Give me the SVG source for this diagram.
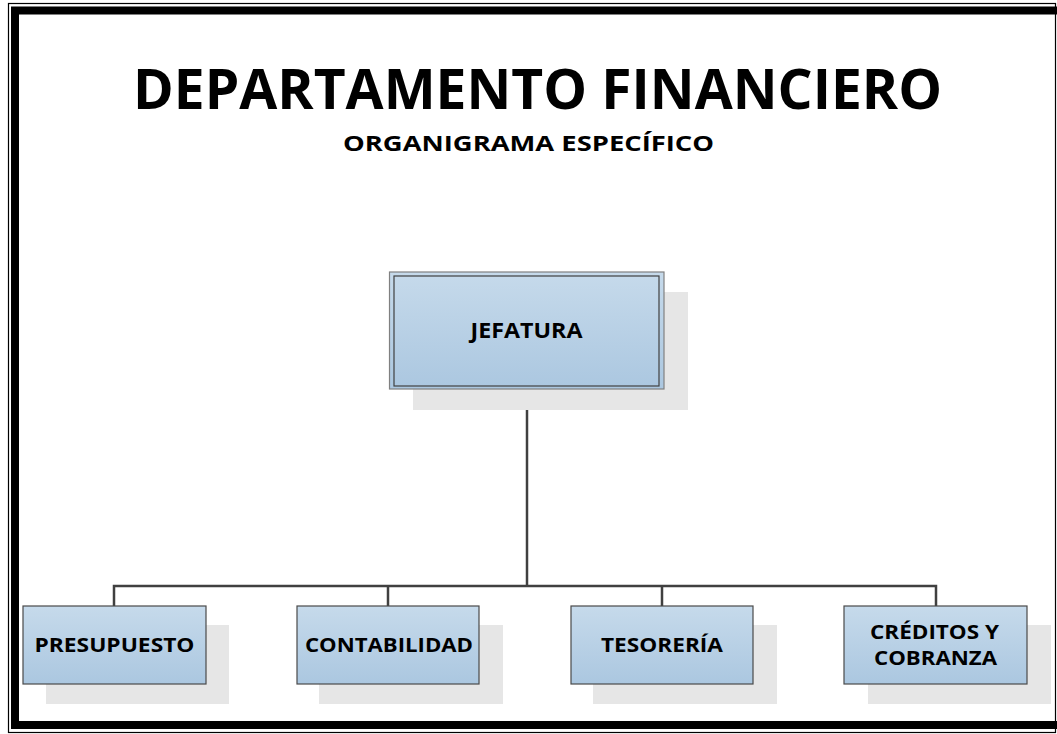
<svg xmlns="http://www.w3.org/2000/svg" width="1057" height="734" viewBox="0 0 1057 734">
<style>
.t{font-family:"Open Sans","Liberation Sans",sans-serif;font-weight:bold;fill:#000;text-anchor:middle}
.node{fill:url(#g);stroke:#4a4a4a;stroke-width:1.2}
.sh{fill:#e6e6e6}
.con{fill:none;stroke:#404040;stroke-width:2.5}
</style>
<defs>
<linearGradient id="g" x1="0" y1="0" x2="0" y2="1">
<stop offset="0" stop-color="#c6daeb"/>
<stop offset="1" stop-color="#abc7e0"/>
</linearGradient>
</defs>
<rect x="0" y="0" width="1057" height="734" fill="#fff"/>
<g id="frame">
<rect x="8.5" y="3.5" width="1047" height="729" fill="none" stroke="#000" stroke-width="1.2"/>
<rect x="15" y="10.5" width="1050" height="714.5" fill="none" stroke="#000" stroke-width="8"/>
</g>
<g id="title">
<text class="t" x="537.5" y="109" font-size="56" textLength="809" lengthAdjust="spacingAndGlyphs">DEPARTAMENTO FINANCIERO</text>
<text class="t" x="528.5" y="151" font-size="22" textLength="371" lengthAdjust="spacingAndGlyphs">ORGANIGRAMA ESPECÍFICO</text>
</g>
<g id="connectors">
<path class="con" d="M527 389V586" stroke-width="3"/>
<path class="con" d="M114 606V586H936V606M388 586V606M662 586V606"/>
</g>
<g id="jefatura">
<rect class="sh" x="413" y="292" width="275" height="118"/>
<rect x="389.5" y="272" width="274.5" height="117" fill="url(#g)" stroke="#808080" stroke-width="1.2"/>
<rect x="394" y="276" width="265" height="110" fill="none" stroke="#404040" stroke-width="1.2"/>
<text class="t" x="526.5" y="338" font-size="21" textLength="112" lengthAdjust="spacingAndGlyphs">JEFATURA</text>
</g>
<g id="presupuesto">
<rect class="sh" x="46" y="625" width="183" height="79"/>
<rect class="node" x="23" y="606" width="183" height="78"/>
<text class="t" x="114.5" y="652" font-size="20" textLength="160" lengthAdjust="spacingAndGlyphs">PRESUPUESTO</text>
</g>
<g id="contabilidad">
<rect class="sh" x="319" y="625" width="184" height="79"/>
<rect class="node" x="297" y="606" width="182" height="78"/>
<text class="t" x="389" y="652" font-size="20" textLength="168" lengthAdjust="spacingAndGlyphs">CONTABILIDAD</text>
</g>
<g id="tesoreria">
<rect class="sh" x="593" y="625" width="184" height="79"/>
<rect class="node" x="571" y="606" width="182" height="78"/>
<text class="t" x="662" y="652" font-size="20" textLength="122" lengthAdjust="spacingAndGlyphs">TESORERÍA</text>
</g>
<g id="creditos">
<rect class="sh" x="868" y="625" width="183" height="79"/>
<rect class="node" x="844" y="606" width="183" height="78"/>
<text class="t" x="934.5" y="639" font-size="20" textLength="129" lengthAdjust="spacingAndGlyphs">CRÉDITOS Y</text>
<text class="t" x="935.5" y="665" font-size="20" textLength="123" lengthAdjust="spacingAndGlyphs">COBRANZA</text>
</g>
</svg>
